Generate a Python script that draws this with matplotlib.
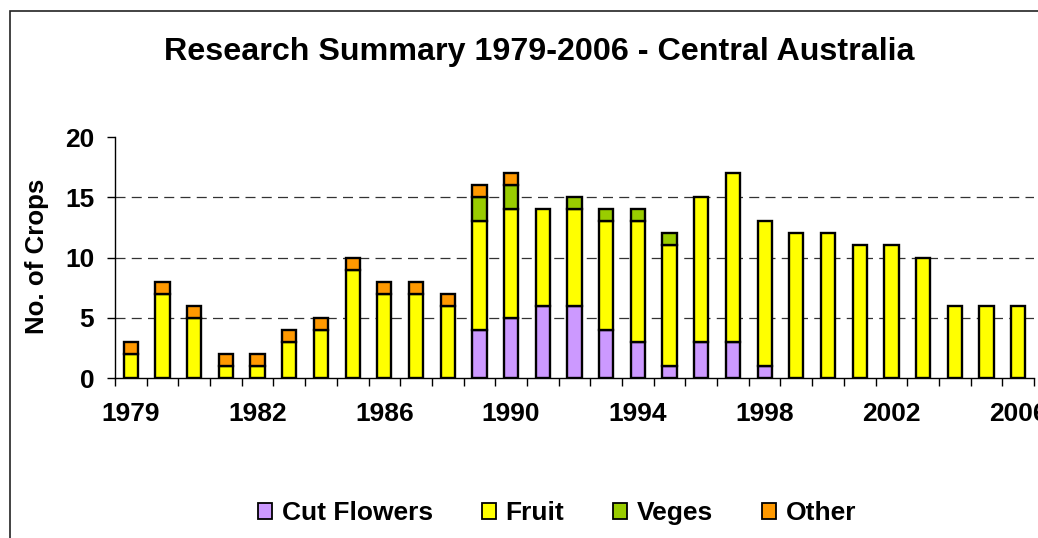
import matplotlib
matplotlib.use("Agg")
import matplotlib.pyplot as plt
from matplotlib.patches import Rectangle, Patch
import numpy as np

plt.rcParams['font.family'] = ['Liberation Sans', 'DejaVu Sans']
plt.rcParams['font.weight'] = 'bold'

# category tick labels (29 categories, a label every 4th)
tick_labels = ["1979", "", "", "", "1982", "", "", "", "1986", "", "", "",
               "1990", "", "", "", "1994", "", "", "", "1998", "", "", "",
               "2002", "", "", "", "2006"]

cut_flowers = [0, 0, 0, 0, 0, 0, 0, 0, 0, 0, 0, 4, 5, 6, 6, 4, 3, 1, 3, 3, 1,
               0, 0, 0, 0, 0, 0, 0, 0]
fruit = [2, 7, 5, 1, 1, 3, 4, 9, 7, 7, 6, 9, 9, 8, 8, 9, 10, 10, 12, 14, 12,
         12, 12, 11, 11, 10, 6, 6, 6]
veges = [0, 0, 0, 0, 0, 0, 0, 0, 0, 0, 0, 2, 2, 0, 1, 1, 1, 1, 0, 0, 0,
         0, 0, 0, 0, 0, 0, 0, 0]
other = [1, 1, 1, 1, 1, 1, 1, 1, 1, 1, 1, 1, 1, 0, 0, 0, 0, 0, 0, 0, 0,
         0, 0, 0, 0, 0, 0, 0, 0]

series_names = ["Cut Flowers", "Fruit", "Veges", "Other"]
series_colors = ["#CC99FF", "#FFFF00", "#99CC00", "#FF9900"]
series_values = [cut_flowers, fruit, veges, other]

W, H = 1038, 538
fig = plt.figure(figsize=(W / 100, H / 100), dpi=100)

# chart-area border (cut at right and bottom)
fig.patches.append(Rectangle((10 / W, -0.05), 1.2, 1 - 11 / H + 0.05,
                             transform=fig.transFigure, fill=False,
                             edgecolor="#222222", linewidth=1.2))

ax = fig.add_axes([115 / W, 1 - 378 / H, (1034 - 115) / W, (378 - 137) / H])

x = np.arange(len(tick_labels))
bottom = np.zeros(len(x))
for name, color, vals in zip(series_names, series_colors, series_values):
    v = np.array(vals, dtype=float)
    mask = v > 0
    ax.bar(x[mask], v[mask], bottom=bottom[mask], width=0.45, color=color,
           edgecolor="black", linewidth=1.7, label=name, zorder=3)
    bottom += v

ax.set_xlim(-0.5, len(x) - 0.5)
ax.set_ylim(0, 20)
ax.set_yticks([0, 5, 10, 15, 20])
for gy in [5, 10, 15]:
    ax.axhline(gy, color="#333333", linewidth=0.9, dashes=(8, 5), zorder=1)

ax.spines['top'].set_visible(False)
ax.spines['right'].set_visible(False)
ax.spines['left'].set_color("black")
ax.spines['bottom'].set_color("black")
ax.spines['left'].set_linewidth(1.0)
ax.spines['bottom'].set_linewidth(1.0)
ax.spines['bottom'].set_zorder(4)

ax.set_xticks(x)
ax.set_xticklabels(tick_labels)
ax.set_xticks(np.arange(-0.5, len(x), 1.0), minor=True)
ax.tick_params(axis='x', which='major', length=0, pad=17, labelsize=19)
ax.tick_params(axis='x', which='minor', length=6, width=1.0, direction='out', color='black')
ax.tick_params(axis='y', which='major', length=6, width=1.0, direction='out', pad=9, labelsize=19)
for lab in ax.get_xticklabels() + ax.get_yticklabels():
    lab.set_fontweight('bold')

fig.text(37 / W, 1 - 256 / H, "No. of Crops", rotation=90, ha='center', va='center',
         fontsize=18.6, fontweight='bold')
fig.text(539 / W, 1 - 52 / H, "Research Summary 1979-2006 - Central Australia",
         ha='center', va='center', fontsize=23.2, fontweight='bold')

handles = [Patch(facecolor=c, edgecolor='black', linewidth=1.3) for c in series_colors]
leg = fig.legend(handles, series_names, loc='center', bbox_to_anchor=(557 / W, 1 - 513 / H),
                 ncol=4, frameon=False, fontsize=19, handlelength=0.55, handleheight=0.55,
                 handletextpad=0.35, columnspacing=1.85)
for t in leg.get_texts():
    t.set_fontweight('bold')

fig.savefig("out.png", dpi=100)
